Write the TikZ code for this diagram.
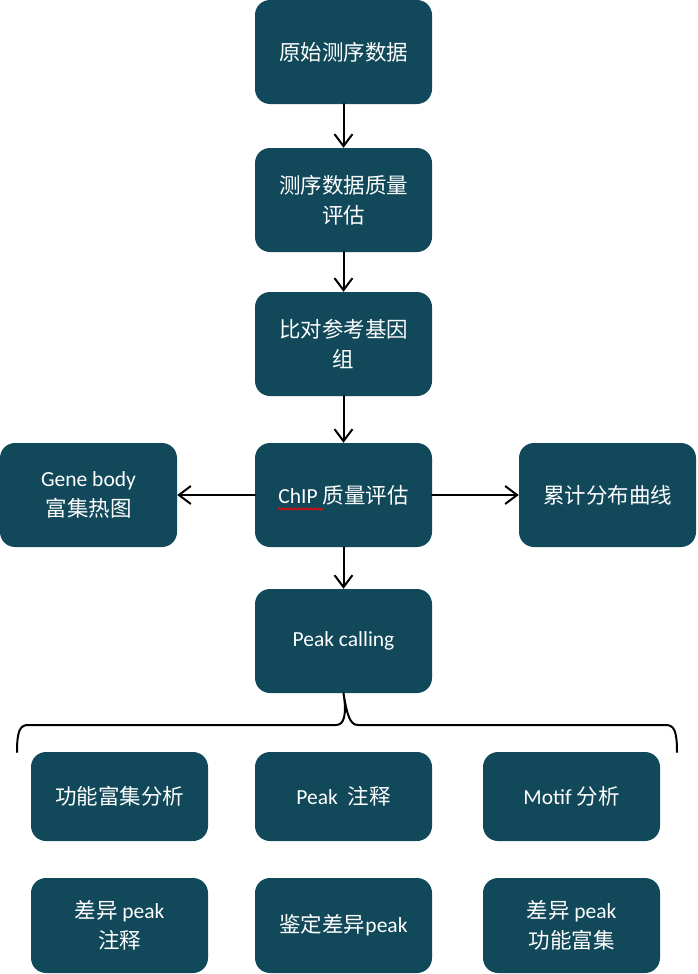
\documentclass[tikz,border=0pt]{standalone}
\usepackage{fontspec}
\setmainfont{Carlito}
\newfontfamily\cjk{Noto Sans CJK SC}
\usetikzlibrary{arrows.meta,decorations.pathmorphing}
\definecolor{boxteal}{RGB}{17,72,90}

\begin{document}
\begin{tikzpicture}[x=1pt,y=-1pt,line cap=round,line join=round,
  box/.style={rectangle,rounded corners=15pt,fill=boxteal,text=white,
    minimum width=177pt,minimum height=104pt,inner sep=0pt,align=center,
    font=\fontsize{21.5}{30}\selectfont},
  flow/.style={-{Straight Barb[length=12pt,width=18pt]},line width=2pt}]
\path[use as bounding box] (0,0) rectangle (697,974);
% main column
\node[box] (raw)   at (343.5,52)  {\cjk 原始测序数据};
\node[box] (qc)    at (343.5,200) {\cjk 测序数据质量\\\cjk 评估};
\node[box] (map)   at (343.5,344) {\cjk 比对参考基因\\\cjk 组};
\node[box] (chip)  at (343.5,495) {ChIP {\cjk 质量评估}};
\node[box] (gene)  at (88.5,495)  {Gene body\\\cjk 富集热图};
\node[box] (cum)   at (607.5,495) {\cjk 累计分布曲线};
\node[box] (peak)  at (343.5,641) {Peak calling};
% downstream analyses
\node[box,minimum height=89pt] (func)  at (119.5,796.5) {\cjk 功能富集分析};
\node[box,minimum height=89pt] (anno)  at (343.5,796.5) {Peak\ \ {\cjk 注释}};
\node[box,minimum height=89pt] (motif) at (571.5,796.5) {Motif {\cjk 分析}};
\node[box,minimum height=95pt] (dann)  at (119.5,925.5) {{\cjk 差异} peak\\\cjk 注释};
\node[box,minimum height=95pt] (diff)  at (343.5,925.5) {{\cjk 鉴定差异}peak};
\node[box,minimum height=95pt] (denr)  at (571.5,925.5) {{\cjk 差异} peak\\\cjk 功能富集};
% arrows
\draw[flow] (raw) -- (qc);
\draw[flow] (qc) -- (map);
\draw[flow] (map) -- (chip);
\draw[flow] (chip) -- (peak);
\draw[flow] (chip) -- (gene);
\draw[flow] (chip) -- (cum);
% brace
\coordinate (bl) at (17,752);
\coordinate (br) at (677,752);
\draw[line width=2pt] (bl) .. controls (17,731) and (20,725) .. (28,725) -- (336,725)
  .. controls (344,725) and (347,715) .. (peak.south)
  .. controls (347,715) and (350,725) .. (358,725) -- (666,725)
  .. controls (674,725) and (677,731) .. (br);
% spell-check mark
\draw[red,line width=0.9pt,decorate,
  decoration={snake,segment length=4pt,amplitude=1.3pt}] (278,509) -- (324,509);
\end{tikzpicture}
\end{document}
